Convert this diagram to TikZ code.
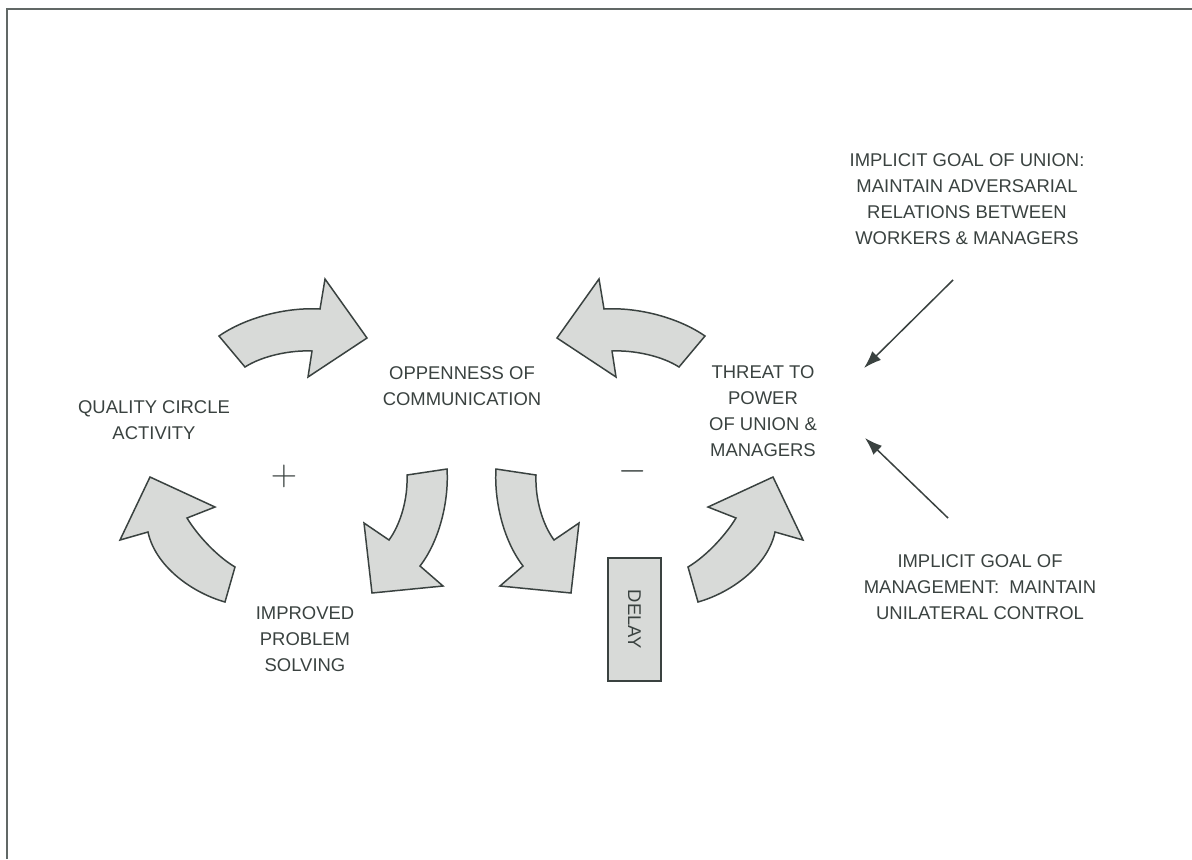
\documentclass[tikz,border=0pt]{standalone}
\usepackage{fontspec}
\setmainfont{Liberation Sans}
\usepackage{tikz}
\usetikzlibrary{arrows.meta}

\definecolor{inkgray}{RGB}{58,66,64}
\definecolor{shadegray}{RGB}{216,218,216}

\tikzset{
	boxtext/.style={align=center, text=inkgray, font=\fontsize{10.5}{14.8}\selectfont},
	bigarrow/.style={draw=inkgray, line width=0.85pt, fill=shadegray, line join=miter},
	pointer/.style={-{Latex[length=10pt,width=7pt]}, draw=inkgray, line width=0.85pt}
}

\begin{document}
\begin{tikzpicture}[x=0.02cm, y=-0.02cm]
	
	\useasboundingbox (0,0) rectangle (1192,859);
	\draw[inkgray!80, line width=1.2pt] (7,859) -- (7,9) -- (1192,9);
	
	\node[boxtext] (quality)  at (154,420) {QUALITY CIRCLE\\ACTIVITY};
	\node[boxtext] (openness) at (462,386) {OPPENNESS OF\\COMMUNICATION};
	\node[boxtext] (threat)   at (763,411) {THREAT TO\\POWER\\OF UNION \&\\MANAGERS};
	\node[boxtext] (problem)  at (305,639) {IMPROVED\\PROBLEM\\SOLVING};
	\node[boxtext] (uniongoal) at (967,199) {IMPLICIT GOAL OF UNION:\\MAINTAIN ADVERSARIAL\\RELATIONS BETWEEN\\WORKERS \& MANAGERS};
	\node[boxtext] (mgmtgoal) at (980,587) {IMPLICIT GOAL OF\\MANAGEMENT:\ \ MAINTAIN\\UNILATERAL CONTROL};
	
	\node[text=inkgray, font=\fontsize{22}{22}\selectfont] (plus)  at (284,476) {$+$};
	\node[text=inkgray, font=\fontsize{22}{22}\selectfont] (minus) at (633,471) {$-$};
	
	\node[draw=inkgray, line width=0.85pt, fill=shadegray, minimum width=53*0.02cm, minimum height=123*0.02cm, inner sep=0pt] (delay) at (634.5,619.5) {};
	\node[boxtext, rotate=-90] (delaytext) at (delay.center) {DELAY};
	
	% loop arrows
	\path[bigarrow] (219,336) .. controls (245,318) and (285,307) .. (320,309) -- (325,279) -- (367,338)
		-- (308,377) -- (312,351) .. controls (290,350) and (262,356) .. (245,367) -- cycle;
	\path[bigarrow] (705,336) .. controls (679,318) and (639,307) .. (604,309) -- (599,279) -- (557,338)
		-- (616,377) -- (612,351) .. controls (634,350) and (662,356) .. (679,367) -- cycle;
	\path[bigarrow] (150,477) -- (215,507) -- (187,518) .. controls (196,533) and (215,555) .. (235,567)
		-- (225,602) .. controls (190,592) and (155,565) .. (148,532) -- (120,540) -- cycle;
	\path[bigarrow] (773,477) -- (708,507) -- (736,518) .. controls (727,533) and (708,555) .. (688,567)
		-- (698,602) .. controls (733,592) and (768,565) .. (775,532) -- (803,540) -- cycle;
	\path[bigarrow] (407,475) -- (447,469) .. controls (449,500) and (440,540) .. (420,566) -- (443,586)
		-- (372,593) -- (364,523) -- (389,540) .. controls (400,525) and (408,500) .. (407,475) -- cycle;
	\path[bigarrow] (536,475) -- (496,469) .. controls (494,500) and (503,540) .. (523,566) -- (500,586)
		-- (571,593) -- (579,523) -- (554,540) .. controls (543,525) and (535,500) .. (536,475) -- cycle;
	
	\coordinate (unionfrom) at (953,280);
	\coordinate (unionto)   at (864,368);
	\coordinate (mgmtfrom)  at (948,518);
	\coordinate (mgmtto)    at (865,438);
	
	\draw[pointer] (unionfrom) -- (unionto);
	\draw[pointer] (mgmtfrom) -- (mgmtto);
	
\end{tikzpicture}
\end{document}
